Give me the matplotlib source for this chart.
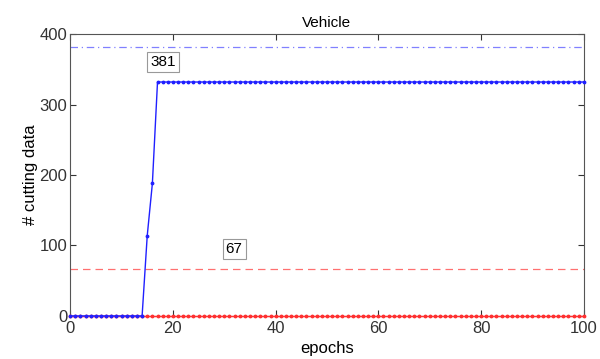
import matplotlib.pyplot as plt
import numpy as np

plt.rcParams['font.family'] = ['Liberation Sans', 'DejaVu Sans']

epochs = np.arange(0, 101)
# cutting data per epoch (blue)
cut_blue = [0] * 15 + [114, 188] + [332] * 84
cut_red = [0] * 101
bound_blue = 381
bound_red = 67

fig = plt.figure(figsize=(6, 3.59), dpi=100)
ax = fig.add_axes([0.117, 0.12, 0.856, 0.785])

ax.axhline(bound_blue, color='#8080ff', linewidth=0.9, dashes=(6, 3, 1, 3))
ax.axhline(bound_red, color='#ff7070', linewidth=0.9, dashes=(6, 4))
ax.plot(epochs, cut_red, color='#ff3030', marker='.', markersize=3.5, linewidth=1,
        clip_on=False, zorder=4)
ax.plot(epochs, cut_blue, color='#2020ff', marker='.', markersize=3.5, linewidth=1,
        clip_on=False, zorder=5)

box = dict(boxstyle='square,pad=0.2', facecolor='white', edgecolor='#999999', linewidth=0.8)
ax.text(18.1, 360, str(bound_blue), ha='center', va='center', fontsize=11, bbox=box)
ax.text(31.9, 95, str(bound_red), ha='center', va='center', fontsize=11, bbox=box)

ax.set_xlim(0, 100)
ax.set_ylim(0, 400)
ax.set_xticks([0, 20, 40, 60, 80, 100])
ax.set_yticks([0, 100, 200, 300, 400])
ax.tick_params(direction='in', top=True, right=True, labelsize=12, length=4,
               colors='#333333')
ax.tick_params(axis='x', pad=4)
ax.tick_params(axis='y', pad=2)
for s in ax.spines.values():
    s.set_color('#555555')
ax.set_title('Vehicle', fontsize=11, pad=5)
ax.set_xlabel('epochs', fontsize=12, labelpad=3)
ax.set_ylabel('# cutting data', fontsize=12, labelpad=1)

plt.savefig('out.png')
plt.close()
